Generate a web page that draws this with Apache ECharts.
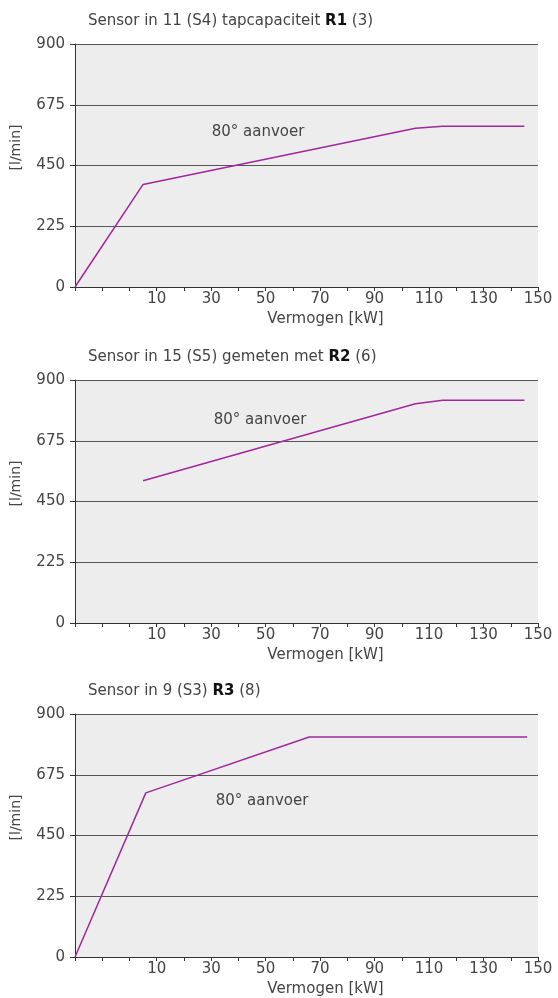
<!DOCTYPE html>
<html>
<head>
<meta charset="utf-8">
<script src="https://cdn.jsdelivr.net/npm/echarts@6/dist/echarts.min.js"></script>
<style>
  html, body { margin: 0; padding: 0; background: #fff; }
  #myChart { width: 558px; height: 998px; }
</style>
</head>
<body>
<div id="myChart"></div>
<script>
// vermogen [kW] en debiet [l/min] per sensor
var titles = [
  ['Sensor in 11 (S4) tapcapaciteit ', 'R1', ' (3)'],
  ['Sensor in 15 (S5) gemeten met ', 'R2', ' (6)'],
  ['Sensor in 9 (S3) ', 'R3', ' (8)']
];
var xR1 = [-20, 5, 105, 115, 145];
var yR1 = [0, 380, 588, 595, 595];
var xR2 = [5, 105, 115, 145];
var yR2 = [527, 812, 825, 825];
var xR3 = [-20, 6, 66, 146];
var yR3 = [0, 608, 815, 815];
var xLabels = [10, 30, 50, 70, 90, 110, 130, 150];
var yTicks = [0, 225, 450, 675, 900];
var annotation = '80° aanvoer';

var font = 'DejaVu Sans';
var textColor = '#444';
var lineColor = '#a0289c';
var tops = [44, 380, 714];
var annotPos = [[258, 132], [260, 420], [262, 801]];

function pairs (xs, ys) {
  return xs.map(function (x, i) { return [x, ys[i]]; });
}
var seriesData = [pairs(xR1, yR1), pairs(xR2, yR2), pairs(xR3, yR3)];

var myChart = echarts.init(document.getElementById('myChart'));

var option = {
  animation: false,
  textStyle: { fontFamily: font },
  title: [],
  grid: [],
  xAxis: [],
  yAxis: [],
  series: [],
  graphic: []
};

for (var i = 0; i < 3; i++) {
  option.title.push({
    left: 83,
    top: tops[i] - 35,
    text: titles[i][0] + '{b|' + titles[i][1] + '}' + titles[i][2],
    textStyle: {
      fontFamily: font,
      fontSize: 15,
      fontWeight: 'normal',
      color: textColor,
      rich: {
        b: { fontFamily: font, fontSize: 15, fontWeight: 'bold', color: '#111' }
      }
    }
  });
  option.grid.push({
    left: 75,
    right: 20,
    top: tops[i],
    height: 243,
    show: true,
    backgroundColor: '#ededed',
    borderWidth: 0
  });
  option.xAxis.push({
    gridIndex: i,
    type: 'value',
    min: -20,
    max: 150,
    interval: 10,
    name: 'Vermogen [kW]',
    nameLocation: 'middle',
    nameGap: 25,
    nameTextStyle: { fontFamily: font, fontSize: 15, color: textColor, padding: [0, 0, 0, 38] },
    axisLine: { onZero: false, lineStyle: { color: '#333', width: 1 } },
    axisTick: { show: true, length: 4, lineStyle: { color: '#333' } },
    axisLabel: {
      fontFamily: font,
      fontSize: 15,
      color: textColor,
      margin: 5,
      formatter: function (v) {
        return xLabels.indexOf(v) >= 0 ? String(v) : '';
      }
    },
    splitLine: { show: false }
  });
  option.yAxis.push({
    gridIndex: i,
    type: 'value',
    min: yTicks[0],
    max: yTicks[yTicks.length - 1],
    interval: 225,
    name: '[l/min]',
    nameLocation: 'middle',
    nameRotate: 90,
    nameGap: 52,
    nameTextStyle: { fontFamily: font, fontSize: 14, color: textColor, padding: [0, 0, 0, 36] },
    axisLine: { show: true, onZero: false, lineStyle: { color: '#333', width: 1 } },
    axisTick: { show: true, length: 5, lineStyle: { color: '#333' } },
    axisLabel: { fontFamily: font, fontSize: 15, color: textColor, margin: 10 },
    splitLine: { show: true, lineStyle: { color: '#555', width: 1 } }
  });
  option.series.push({
    type: 'line',
    xAxisIndex: i,
    yAxisIndex: i,
    symbol: 'none',
    lineStyle: { color: lineColor, width: 1.5 },
    data: seriesData[i]
  });
  option.graphic.push({
    type: 'text',
    x: annotPos[i][0],
    y: annotPos[i][1],
    style: {
      text: annotation,
      fontFamily: font,
      fontSize: 15,
      fill: textColor,
      align: 'center',
      verticalAlign: 'middle'
    }
  });
}

myChart.setOption(option);
</script>
</body>
</html>
